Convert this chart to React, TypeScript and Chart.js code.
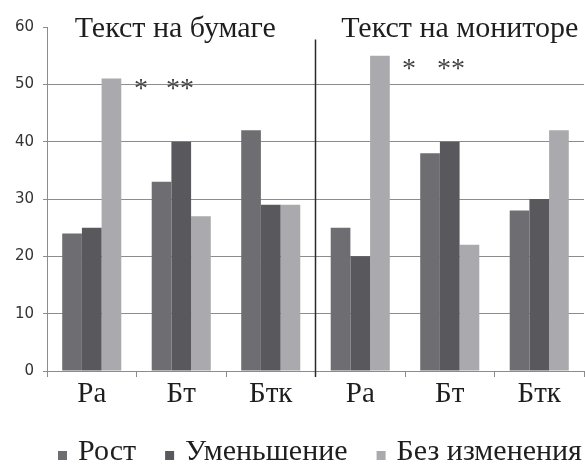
import React, { useEffect, useRef } from "react";
import { Chart, registerables } from "chart.js";

Chart.register(...registerables);

const categories = ["Ра", "Бт", "Бтк", "Ра", "Бт", "Бтк"];
const seriesNames = ["Рост", "Уменьшение", "Без изменения"];
const growth = [24, 33, 42, 25, 38, 28];
const decrease = [25, 40, 29, 20, 40, 30];
const noChange = [51, 27, 29, 55, 22, 42];
const yTicks = [0, 10, 20, 30, 40, 50, 60];
const panelTitles = ["Текст на бумаге", "Текст на мониторе"];
const starMarks = ["*", "**"];
const colors = ["#6e6e72", "#59595d", "#aaaaae"];

const SERIF = "'Liberation Serif', 'Times New Roman', serif";
const SANS = "'DejaVu Sans', sans-serif";
const GRID = "#8c8c8c";
const TEXT = "#1e1e1e";

const overlay = {
  id: "overlay",
  afterDraw(chart: any) {
    const { ctx, chartArea, scales } = chart;
    const x = scales.x;
    const y = scales.y;
    ctx.save();
    const boundary = (x.getPixelForValue(2) + x.getPixelForValue(3)) / 2;
    ctx.strokeStyle = "#2a2a2a";
    ctx.lineWidth = 1.5;
    ctx.beginPath();
    ctx.moveTo(boundary, y.getPixelForValue(57.8));
    ctx.lineTo(boundary, chartArea.bottom + 6);
    ctx.stroke();

    ctx.fillStyle = TEXT;
    ctx.textAlign = "center";
    ctx.textBaseline = "alphabetic";
    ctx.font = `30px ${SERIF}`;
    ctx.fillText(panelTitles[0], x.getPixelForValue(1) - 6, 37);
    ctx.fillText(panelTitles[1], x.getPixelForValue(4) + 10, 37);

    ctx.fillStyle = "#444";
    ctx.font = `28px ${SERIF}`;
    ctx.textAlign = "left";
    ctx.fillText(starMarks[0], 134, 97);
    ctx.fillText(starMarks[1], 166, 97);
    ctx.fillText(starMarks[0], 402, 77);
    ctx.fillText(starMarks[1], 437, 77);

    ctx.font = `30px ${SERIF}`;
    ctx.textAlign = "left";
    let cx = 58;
    const base = 460;
    chart.data.datasets.forEach((ds: any) => {
      ctx.fillStyle = ds.backgroundColor;
      ctx.fillRect(cx, base - 9, 9, 9);
      ctx.fillStyle = TEXT;
      ctx.fillText(ds.label, cx + 20, base);
      cx += 20 + ctx.measureText(ds.label).width + 29;
    });
    ctx.restore();
  },
};

export default function App() {
  const ref = useRef<HTMLCanvasElement | null>(null);
  useEffect(() => {
    if (!ref.current) return;
    const series = [growth, decrease, noChange];
    const chart = new Chart(ref.current, {
      type: "bar",
      data: {
        labels: categories,
        datasets: series.map((d, i) => ({
          label: seriesNames[i],
          data: d,
          backgroundColor: colors[i],
          borderWidth: 0,
          categoryPercentage: 0.66,
          barPercentage: 1.0,
        })),
      },
      options: {
        animation: false,
        responsive: false,
        maintainAspectRatio: false,
        layout: { padding: { top: 27, right: 1, left: 0, bottom: 0 } },
        plugins: {
          legend: { display: false },
          tooltip: { enabled: false },
        },
        scales: {
          x: {
            grid: {
              offset: true,
              drawOnChartArea: false,
              drawTicks: true,
              tickLength: 6,
              color: GRID,
            },
            border: { color: GRID, width: 1 },
            ticks: {
              font: { family: SERIF, size: 29 },
              color: TEXT,
              padding: 0,
              maxRotation: 0,
            },
            afterFit(scale: any) {
              scale.height = 93;
            },
          },
          y: {
            min: 0,
            max: 60,
            afterBuildTicks(scale: any) {
              scale.ticks = yTicks.map((v) => ({ value: v }));
            },
            grid: {
              color: (c: any) => (c.tick && c.tick.value === 60 ? "rgba(0,0,0,0)" : GRID),
              tickColor: GRID,
              tickLength: 4,
            },
            border: { color: GRID, width: 1 },
            ticks: {
              font: { family: SANS, size: 15 },
              color: "#333",
              padding: 9,
            },
            afterFit(scale: any) {
              scale.width = 47;
            },
          },
        },
      },
      plugins: [overlay],
    });
    return () => chart.destroy();
  }, []);
  return (
    <div style={{ position: "absolute", left: 0, top: 0, width: 585, height: 464 }}>
      <canvas ref={ref} width={585} height={464} />
    </div>
  );
}
